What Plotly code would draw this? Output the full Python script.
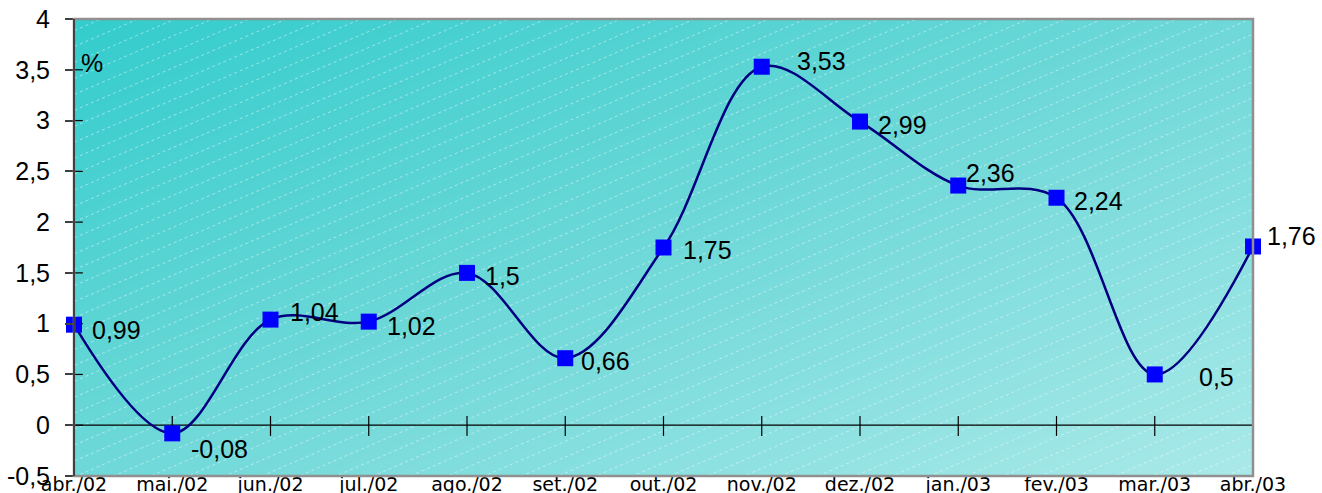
import numpy as np
import plotly.graph_objects as go

# ---- data ----
categories = ["abr./02", "mai./02", "jun./02", "jul./02", "ago./02", "set./02", "out./02",
              "nov./02", "dez./02", "jan./03", "fev./03", "mar./03", "abr./03"]
values = [0.99, -0.08, 1.04, 1.02, 1.5, 0.66, 1.75, 3.53, 2.99, 2.36, 2.24, 0.5, 1.76]
y_tick_values = [-0.5, 0, 0.5, 1, 1.5, 2, 2.5, 3, 3.5, 4]
y_tick_labels = ["-0,5", "0", "0,5", "1", "1,5", "2", "2,5", "3", "3,5", "4"]

# label offsets (style only)
label_dx = [16, 17, 17, 16, 16, 14, 17, 33, 16, 6, 15, 42, 12]
label_dy = [-5, -16, 8, -4, -3, -3, -2, 6, -3, 13, -3, -3, 10]

x = list(range(len(categories)))
xmin, xmax = 0, len(categories) - 1
ymin, ymax = -0.5, 4.0

fig = go.Figure()

# ---- gradient background (heatmap) ----
gx = np.linspace(xmin - 0.6, xmax + 0.6, 80)
gy = np.linspace(ymin - 0.3, ymax + 0.3, 40)
fx = np.clip((gx - xmin) / (xmax - xmin), 0, 1)
fy = np.clip((gy - ymin) / (ymax - ymin), 0, 1)
Z = (fx[None, :] + (1 - fy[:, None])) / 2
fig.add_trace(go.Heatmap(x=gx, y=gy, z=Z, zmin=0, zmax=1, zsmooth="best",
                         colorscale=[[0, "#33CCCC"], [0.5, "#6FD8D8"], [1, "#AAE9E9"]],
                         showscale=False, hoverinfo="skip"))

# ---- diagonal dashed texture ----
slope = 0.416
step = 0.157
tx, ty = [], []
b = ymin - slope * (xmax - xmin) - 0.2
while b < ymax + 0.2:
    tx += [xmin - 0.5, xmax + 0.5, None]
    ty += [b + slope * (-0.5), b + slope * (xmax + 0.5), None]
    b += step
fig.add_trace(go.Scatter(x=tx, y=ty, mode="lines", hoverinfo="skip", showlegend=False,
                         line=dict(color="rgba(255,255,255,0.45)", width=1, dash="dot")))

# ---- zero line, crossing ticks, inner parts of y ticks ----
zx, zy = [xmin, xmax, None], [0, 0, None]
for xi in x:
    zx += [xi, xi, None]
    zy += [-0.105, 0.09, None]
for yv in y_tick_values:
    zx += [xmin, xmin + 0.09, None]
    zy += [yv, yv, None]
fig.add_trace(go.Scatter(x=zx, y=zy, mode="lines", hoverinfo="skip", showlegend=False,
                         line=dict(color="#000000", width=1.2)))

# ---- data line ----
fig.add_trace(go.Scatter(x=x, y=values, mode="lines+markers", showlegend=False,
                         line=dict(color="#000080", width=2.5, shape="spline", smoothing=1),
                         marker=dict(symbol="square", size=16, color="#0000FF",
                                     line=dict(width=0)),
                         cliponaxis=False))

# ---- data labels ----
for xi, v, dx, dy in zip(x, values, label_dx, label_dy):
    fig.add_annotation(x=xi, y=v, xref="x", yref="y", text=f"{v:g}".replace(".", ","),
                       showarrow=False, xanchor="left", yanchor="middle",
                       xshift=dx, yshift=dy,
                       font=dict(family="Liberation Sans, Arial", size=25, color="#000000"))

fig.add_annotation(x=0, xref="x domain", y=3.57, yref="y", text="%", showarrow=False,
                   xanchor="left", yanchor="middle", xshift=5,
                   font=dict(family="Liberation Sans, Arial", size=25, color="#000000"))

# ---- frame ----
fig.add_shape(type="rect", xref="x domain", yref="y domain", x0=0, x1=1, y0=0, y1=1,
              line=dict(color="#909090", width=2.5), layer="above")
fig.add_shape(type="line", xref="x domain", yref="y domain", x0=0, x1=0, y0=0, y1=1,
              line=dict(color="#404040", width=2), layer="above")

fig.update_layout(
    width=1322, height=493,
    margin=dict(l=74, r=69, t=19, b=17, autoexpand=False),
    paper_bgcolor="#FFFFFF", plot_bgcolor="#7FDADA",
    showlegend=False,
    xaxis=dict(range=[xmin, xmax], tickvals=x, ticktext=categories, ticks="",
               automargin=False, ticklabelstandoff=-5,
               showgrid=False, zeroline=False, showline=False,
               tickfont=dict(family="DejaVu Sans", size=19, color="#000000")),
    yaxis=dict(range=[ymin, ymax], tickvals=y_tick_values, ticktext=y_tick_labels,
               ticks="outside", ticklen=8, tickwidth=1.5, tickcolor="#404040",
               ticklabelstandoff=10, automargin=False,
               showgrid=False, zeroline=False, showline=False,
               tickfont=dict(family="Liberation Sans, Arial", size=25, color="#000000")),
)

fig.write_html("out.html")
